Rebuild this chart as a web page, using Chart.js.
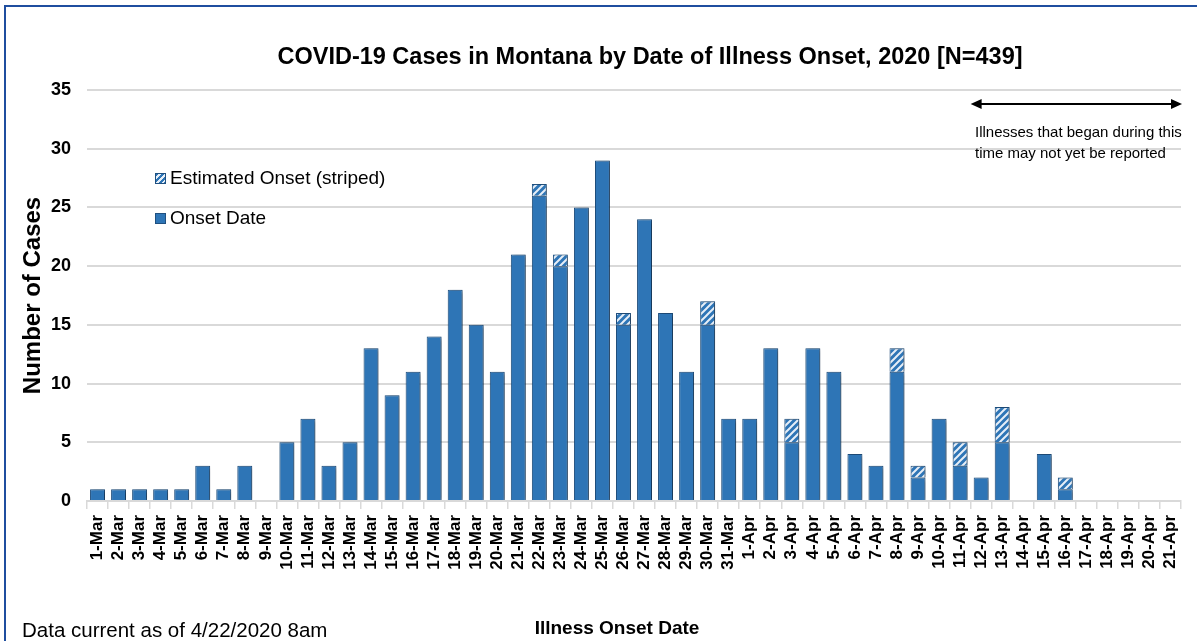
<!DOCTYPE html>
<html>
<head>
<meta charset="utf-8">
<script src="https://cdn.jsdelivr.net/npm/chart.js@4.4.0/dist/chart.umd.min.js"></script>
<style>
  html, body { margin: 0; padding: 0; background: #fff; }
  #wrap { position: relative; width: 1197px; height: 641px; overflow: hidden;
          font-family: "Liberation Sans", Arial, sans-serif; color: #000; }
  #frame { position: absolute; left: 4px; top: 5px; width: 1300px; height: 700px;
           border-left: 2px solid #1f4e9f; border-top: 2px solid #1f4e9f; pointer-events: none; }
  canvas { position: absolute; left: 0; top: 0; }
  .txt { position: absolute; white-space: nowrap; line-height: 1.15; }
  #title { left: 250px; width: 800px; top: 43px; text-align: center; font-weight: bold; font-size: 23.5px; }
  #legend { left: 155px; top: 166px; font-size: 19px; }
  #legend .row { display: flex; align-items: center; height: 24px; margin-bottom: 16px; }
  #legend .sw { width: 11px; height: 11px; margin-right: 4px; border: 1px solid #1f5080; box-sizing: border-box; }
  #note { left: 975px; top: 121px; font-size: 15px; line-height: 21px; }
  #xtitle { left: 517px; width: 200px; top: 617px; text-align: center; font-weight: bold; font-size: 19px; }
  #footer { left: 22px; top: 618px; font-size: 20.5px; }
</style>
</head>
<body>
<div id="wrap">
  <canvas id="chart" width="1197" height="641"></canvas>
  <div class="txt" id="title">COVID-19 Cases in Montana by Date of Illness Onset, 2020 [N=439]</div>
  <div class="txt" id="legend"></div>
  <div class="txt" id="note">Illnesses that began during this<br>time may not yet be reported</div>
  <div class="txt" id="xtitle">Illness Onset Date</div>
  <div class="txt" id="footer">Data current as of 4/22/2020 8am</div>
  <div id="frame"></div>
</div>
<script>
const onsetDates = [
  '1-Mar','2-Mar','3-Mar','4-Mar','5-Mar','6-Mar','7-Mar','8-Mar','9-Mar','10-Mar',
  '11-Mar','12-Mar','13-Mar','14-Mar','15-Mar','16-Mar','17-Mar','18-Mar','19-Mar','20-Mar',
  '21-Mar','22-Mar','23-Mar','24-Mar','25-Mar','26-Mar','27-Mar','28-Mar','29-Mar','30-Mar',
  '31-Mar','1-Apr','2-Apr','3-Apr','4-Apr','5-Apr','6-Apr','7-Apr','8-Apr','9-Apr',
  '10-Apr','11-Apr','12-Apr','13-Apr','14-Apr','15-Apr','16-Apr','17-Apr','18-Apr','19-Apr',
  '20-Apr','21-Apr'
]
const onsetCases = [
  1,1,1,1,1,3,1,3,0,5,
  7,3,5,13,9,11,14,18,15,11,
  21,26,20,25,29,15,24,16,11,15,
  7,7,13,5,13,11,4,3,11,2,
  7,3,2,5,0,4,1,0,0,0,
  0,0
]
const estimatedCases = [
  0,0,0,0,0,0,0,0,0,0,
  0,0,0,0,0,0,0,0,0,0,
  0,1,1,0,0,1,0,0,0,2,
  0,0,0,2,0,0,0,0,2,1,
  0,2,0,3,0,0,1,0,0,0,
  0,0
]
const yTicksMax = 35
const yTickStep = 5
const reportLagStart = '12-Apr'

const blue = '#2e75b6'
const edge = '#1f5080'
const stripeColor = '#e6eef7'
const fontFam = '"Liberation Sans", Arial, sans-serif'

// striped fill for the estimated part
const tile = document.createElement('canvas')
tile.width = 7
tile.height = 7
const t = tile.getContext('2d')
t.fillStyle = blue
t.fillRect(0, 0, 7, 7)
t.strokeStyle = stripeColor
t.lineWidth = 2
t.beginPath()
t.moveTo(-2, 9); t.lineTo(9, -2)
t.moveTo(-5.5, 5.5); t.lineTo(5.5, -5.5)
t.moveTo(1.5, 12.5); t.lineTo(12.5, 1.5)
t.stroke()
const stripes = document.getElementById('chart').getContext('2d').createPattern(tile, 'repeat')

const extras = {
  id: 'extras',
  beforeDatasetsDraw(chart) {
    const c = chart.ctx
    c.save()
    c.shadowColor = 'rgba(0,0,0,0.4)'
    c.shadowBlur = 4
    c.shadowOffsetX = 2
    c.shadowOffsetY = 1
  },
  afterDatasetsDraw(chart) {
    chart.ctx.restore()
  },
  afterDraw(chart) {
    // double arrow over the days that may not be complete yet
    const c = chart.ctx
    const x = chart.scales.x
    const half = (x.getPixelForValue(1) - x.getPixelForValue(0)) / 2
    const x0 = x.getPixelForValue(onsetDates.indexOf(reportLagStart)) - half
    const x1 = chart.chartArea.right + 1
    const y = 104
    c.save()
    c.strokeStyle = '#000'
    c.fillStyle = '#000'
    c.lineWidth = 2
    c.beginPath()
    c.moveTo(x0 + 8, y); c.lineTo(x1 - 8, y)
    c.stroke()
    c.beginPath()
    c.moveTo(x0, y); c.lineTo(x0 + 11, y - 5); c.lineTo(x0 + 11, y + 5); c.closePath()
    c.moveTo(x1, y); c.lineTo(x1 - 11, y - 5); c.lineTo(x1 - 11, y + 5); c.closePath()
    c.fill()
    c.restore()
  }
}

const chart = new Chart(document.getElementById('chart'), {
  type: 'bar',
  data: {
    labels: onsetDates,
    datasets: [{
      label: 'Onset Date',
      data: onsetCases.map(v => v || null),
      backgroundColor: blue,
      borderColor: edge,
      borderWidth: 1,
      barPercentage: 0.71,
      categoryPercentage: 1
    }, {
      label: 'Estimated Onset (striped)',
      data: estimatedCases.map(v => v || null),
      backgroundColor: stripes,
      borderColor: edge,
      borderWidth: 1,
      barPercentage: 0.71,
      categoryPercentage: 1
    }]
  },
  options: {
    responsive: false,
    animation: false,
    devicePixelRatio: 1,
    layout: { padding: { top: 90, right: 11, left: 0, bottom: 0 } },
    plugins: {
      legend: { display: false },
      title: { display: false },
      tooltip: { enabled: false }
    },
    scales: {
      x: {
        stacked: true,
        grid: { offset: true, drawOnChartArea: false, drawTicks: true, tickLength: 8, color: '#d9d9d9', lineWidth: 1.5 },
        border: { display: true, color: '#d9d9d9', width: 2 },
        ticks: {
          autoSkip: false, minRotation: 90, maxRotation: 90, padding: 6, color: '#000',
          font: { family: fontFam, weight: 'bold', size: 17 }
        },
        afterFit(s) { s.height = 140 }
      },
      y: {
        stacked: true,
        min: 0,
        max: yTicksMax,
        ticks: { stepSize: yTickStep, padding: 16, color: '#000', font: { family: fontFam, weight: 'bold', size: 18 } },
        grid: { color: '#d9d9d9', lineWidth: 2, drawTicks: false },
        border: { display: false },
        title: {
          display: true, text: 'Number of Cases', color: '#000',
          font: { family: fontFam, weight: 'bold', size: 24 },
          padding: { top: 19, bottom: 0 }
        },
        afterFit(s) { s.width = 87 }
      }
    }
  },
  plugins: [extras]
})

// legend, estimated first like the original
const legend = document.getElementById('legend')
chart.data.datasets.slice().reverse().forEach(ds => {
  const row = document.createElement('div')
  row.className = 'row'
  const sw = document.createElement('span')
  sw.className = 'sw'
  sw.style.background = ds.backgroundColor === stripes
    ? 'repeating-linear-gradient(135deg,' + blue + ' 0 2px,' + stripeColor + ' 2px 4px)'
    : ds.backgroundColor
  const lab = document.createElement('span')
  lab.textContent = ds.label
  row.appendChild(sw)
  row.appendChild(lab)
  legend.appendChild(row)
})
</script>
</body>
</html>
